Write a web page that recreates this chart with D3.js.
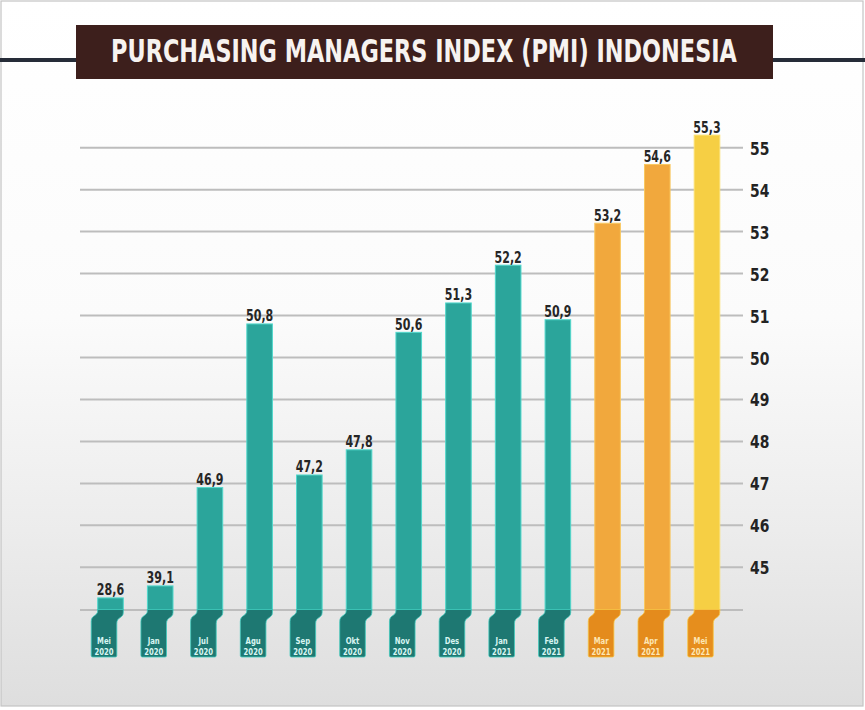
<!DOCTYPE html>
<html>
<head>
<meta charset="utf-8">
<script src="https://cdn.jsdelivr.net/npm/d3@7"></script>
<style>
  html, body { margin: 0; padding: 0; background: #fff; }
  svg { display: block; }
  .cond { font-family: "Liberation Sans Narrow", "DejaVu Sans Condensed", "Roboto Condensed", "Liberation Sans", sans-serif; font-stretch: condensed; font-weight: bold; }
</style>
</head>
<body>
<svg id="chart" width="865" height="710"></svg>
<script>
// ---- data ----
const title = "PURCHASING MANAGERS INDEX (PMI) INDONESIA";
const months = ["Mei", "Jan", "Jul", "Agu", "Sep", "Okt", "Nov", "Des", "Jan", "Feb", "Mar", "Apr", "Mei"];
const years  = ["2020", "2020", "2020", "2020", "2020", "2020", "2020", "2020", "2021", "2021", "2021", "2021", "2021"];
const values = [28.6, 39.1, 46.9, 50.8, 47.2, 47.8, 50.6, 51.3, 52.2, 50.9, 53.2, 54.6, 55.3];
const groups = ["teal", "teal", "teal", "teal", "teal", "teal", "teal", "teal", "teal", "teal", "orange", "orange", "yellow"];
const yTicks = [45, 46, 47, 48, 49, 50, 51, 52, 53, 54, 55];

// ---- styles ----
const palette = {
  teal:   { bar: "#2ba59b", barEdge: "#52d8cc", rib: "#1e7872", ribEdge: "#3fcabd", text: "#d9f6f2" },
  orange: { bar: "#f1a83d", barEdge: "#f9c860", rib: "#e48b1c", ribEdge: "#f6c445", text: "#fde7b4" },
  yellow: { bar: "#f6cf44", barEdge: "#fbe070", rib: "#e68e1d", ribEdge: "#f7c846", text: "#fde7b4" }
};

const svg = d3.select("#chart");
const W = 865, H = 710;
const cats = months.map((m, i) => i);
const data = values.map((v, i) => ({ i, v, month: months[i], year: years[i], g: groups[i] }));

// background gradient
const defs = svg.append("defs");
const bg = defs.append("linearGradient").attr("id", "bg").attr("x1", 0).attr("y1", 0).attr("x2", 0).attr("y2", 1);
bg.append("stop").attr("offset", "0%").attr("stop-color", "#ffffff");
bg.append("stop").attr("offset", "45%").attr("stop-color", "#fbfbfb");
bg.append("stop").attr("offset", "75%").attr("stop-color", "#ececec");
bg.append("stop").attr("offset", "100%").attr("stop-color", "#dedede");
svg.append("rect").attr("width", W).attr("height", H).attr("fill", "#ffffff");
svg.append("rect").attr("x", 1).attr("y", 1).attr("width", 862).attr("height", 705)
  .attr("fill", "url(#bg)").attr("stroke", "#c4c4c4").attr("stroke-width", 1.2);

// ---- scales ----
const x = d3.scaleBand().domain(cats).range([85.65, 731.85]).paddingInner(0.485).paddingOuter(0.2425);
// broken axis: values below the axis start are drawn as short stubs above the baseline
const y = d3.scaleLinear().domain([18, 42, 45, 55]).range([610, 582.6, 567.3, 147.7]);
const baseY = y(18);
const fmt = d3.formatLocale({ decimal: ",", thousands: ".", grouping: [3], currency: ["", ""] }).format(".1f");

// ---- title ----
svg.append("line").attr("x1", 0).attr("x2", W).attr("y1", 60).attr("y2", 60)
  .attr("stroke", "#262c38").attr("stroke-width", 4);
svg.append("rect").attr("x", 76).attr("y", 25).attr("width", 697).attr("height", 54).attr("fill", "#3d1f1c");
const titleText = svg.append("text").attr("class", "cond")
  .attr("text-anchor", "middle").attr("font-size", 32).attr("fill", "#f7f3f0").text(title);
const natural = titleText.node().getComputedTextLength();
titleText.attr("transform", `translate(424,62) scale(${626 / natural},1)`);

// ---- grid + axis ----
const gridX0 = 80, gridX1 = 743;
svg.append("g").selectAll("line").data(yTicks).join("line")
  .attr("x1", gridX0).attr("x2", gridX1)
  .attr("y1", d => y(d)).attr("y2", d => y(d))
  .attr("stroke", "#bdbdbd").attr("stroke-width", 2);
svg.append("line").attr("x1", gridX0).attr("x2", gridX1).attr("y1", baseY).attr("y2", baseY)
  .attr("stroke", "#bdbdbd").attr("stroke-width", 2);

const axis = d3.axisRight(y).tickValues(yTicks).tickSize(0).tickPadding(0).tickFormat(d3.format("d"));
const gAxis = svg.append("g").attr("transform", `translate(750,0)`).call(axis);
gAxis.select(".domain").remove();
gAxis.selectAll("text").attr("class", "cond").attr("font-size", 18).attr("fill", "#232323")
  .attr("x", null).attr("dy", null)
  .attr("transform", "translate(0,6.5) scale(0.86,1)");

// ---- bars ----
const bw = x.bandwidth();
const shift = 6.5;
const ribBottom = 657;

const gBars = svg.append("g");
const bar = gBars.selectAll("g").data(data).join("g");

// bar body
bar.append("rect")
  .attr("x", d => x(d.i)).attr("width", bw)
  .attr("y", d => y(d.v)).attr("height", d => baseY - y(d.v))
  .attr("fill", d => palette[d.g].bar)
  .attr("stroke", d => palette[d.g].barEdge).attr("stroke-width", 1);

// ribbon (label tab)
bar.append("path")
  .attr("d", d => {
    const L = x(d.i), R = L + bw, T = baseY - 0.5;
    return `M${L},${T} L${R},${T} L${R},${T + 3} C${R},${T + 9} ${R - shift},${T + 7} ${R - shift},${T + 14}` +
           ` L${R - shift},${ribBottom - 1.5} Q${R - shift},${ribBottom} ${R - shift - 1.5},${ribBottom}` +
           ` L${L - shift + 1.5},${ribBottom} Q${L - shift},${ribBottom} ${L - shift},${ribBottom - 1.5}` +
           ` L${L - shift},${T + 12} C${L - shift},${T + 5} ${L},${T + 7} ${L},${T + 1} Z`;
  })
  .attr("fill", d => palette[d.g].rib)
  .attr("stroke", d => palette[d.g].ribEdge).attr("stroke-width", 0.8);

// value labels
bar.append("text").attr("class", "cond")
  .attr("transform", d => `translate(${x(d.i) + bw / 2},${y(d.v) - 2.5}) scale(0.82,1)`)
  .attr("text-anchor", "middle").attr("font-size", 15).attr("fill", "#262626")
  .text(d => fmt(d.v));

// month / year labels in tabs
bar.append("text").attr("class", "cond")
  .attr("transform", d => `translate(${x(d.i) + bw / 2 - shift},644) scale(0.9,1)`)
  .attr("text-anchor", "middle").attr("font-size", 8.5).attr("fill", d => palette[d.g].text)
  .text(d => d.month);
bar.append("text").attr("class", "cond")
  .attr("transform", d => `translate(${x(d.i) + bw / 2 - shift},655) scale(0.9,1)`)
  .attr("text-anchor", "middle").attr("font-size", 8.5).attr("fill", d => palette[d.g].text)
  .text(d => d.year);
</script>
</body>
</html>
